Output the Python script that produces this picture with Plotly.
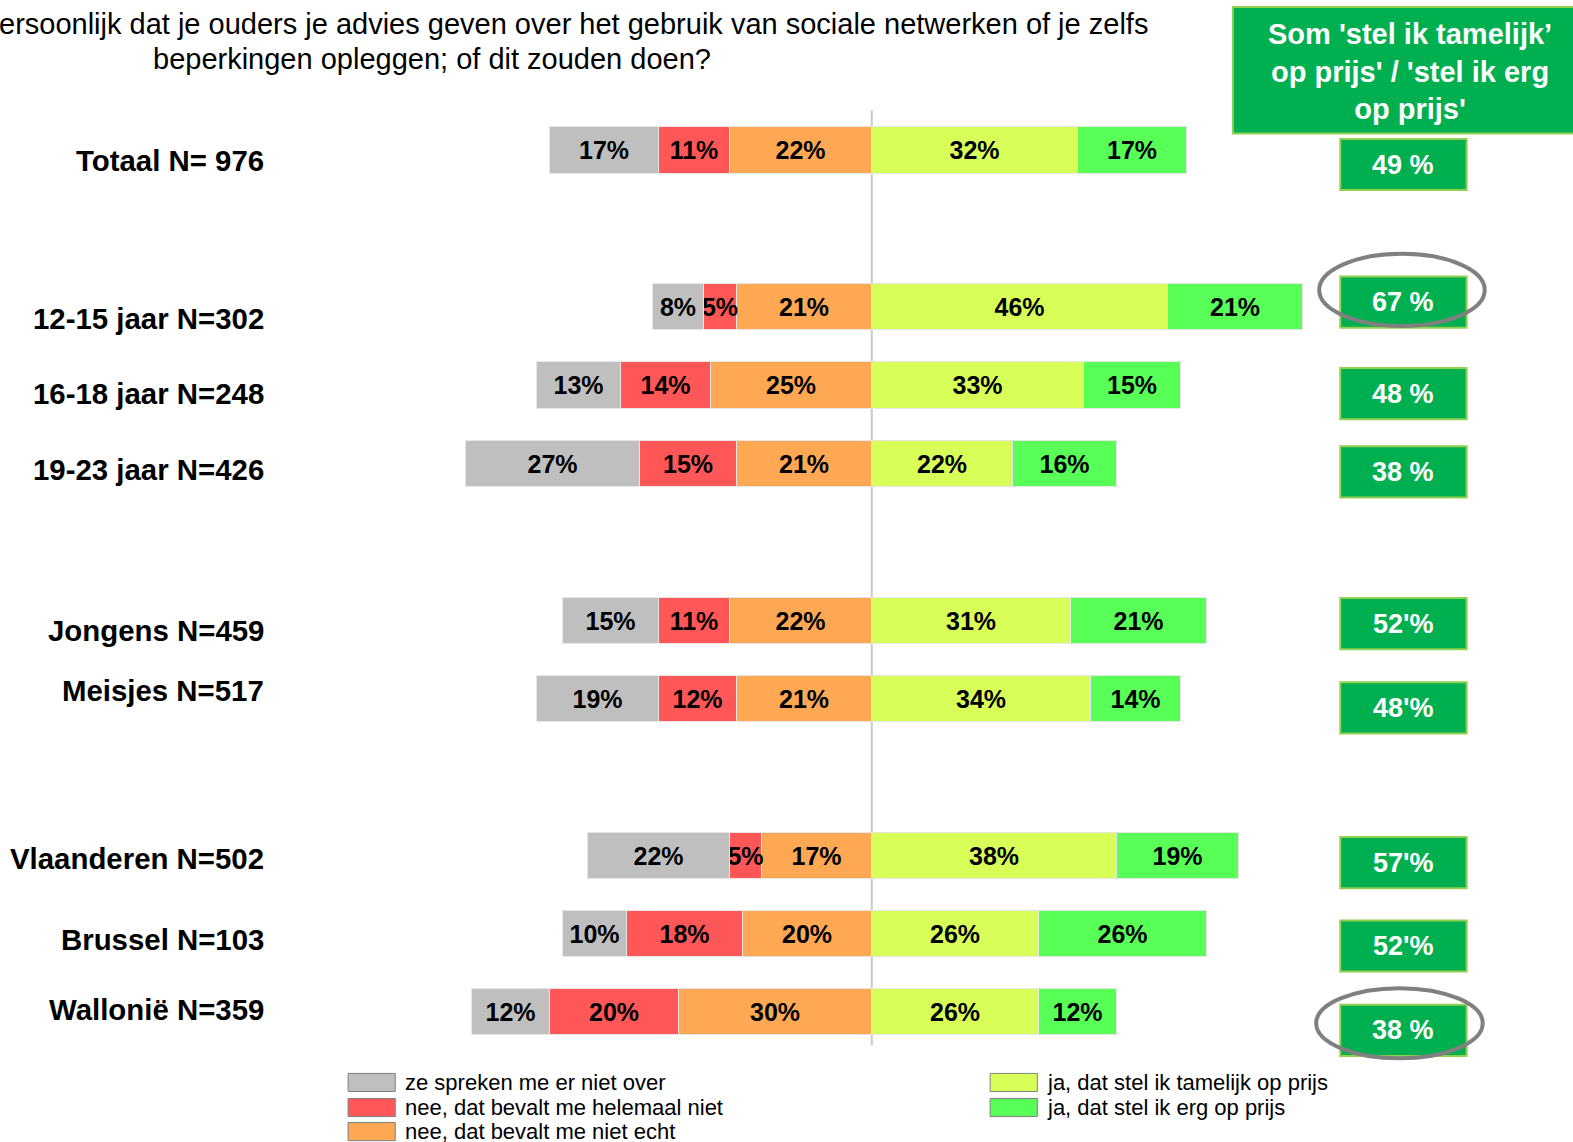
import plotly.graph_objects as go

# ---------------- data ----------------
groups = [
    ["Totaal N= 976"],
    ["12-15 jaar N=302", "16-18 jaar N=248", "19-23 jaar N=426"],
    ["Jongens N=459", "Meisjes N=517"],
    ["Vlaanderen N=502", "Brussel N=103", "Wallonië N=359"],
]
niet_over = [17, 8, 13, 27, 15, 19, 22, 10, 12]
helemaal_niet = [11, 5, 14, 15, 11, 12, 5, 18, 20]
niet_echt = [22, 21, 25, 21, 22, 21, 17, 20, 30]
tamelijk = [32, 46, 33, 22, 31, 34, 38, 26, 26]
erg = [17, 21, 15, 16, 21, 14, 19, 26, 12]
som_labels = ["49 %", "67 %", "48 %", "38 %", "52'%", "48'%", "57'%", "52'%", "38 %"]

series_names = [
    "ze spreken me er niet over",
    "nee, dat bevalt me helemaal niet",
    "nee, dat bevalt me niet echt",
    "ja, dat stel ik tamelijk op prijs",
    "ja, dat stel ik erg op prijs",
]
header_text = "Som 'stel ik tamelijk’<br>op prijs' / 'stel ik erg<br>op prijs'"
title_line1 = "ersoonlijk dat je ouders je advies geven over het gebruik van sociale netwerken of je zelfs"
title_line2 = "beperkingen opleggen; of dit zouden doen?"

# ---------------- layout helpers ----------------
W, H = 1573, 1142
S = 1573 / 1568          # measured coordinates were taken on a 1568-wide view
X0, XS = 869.0 * S, 6.42 * S   # pixel of 0 %, pixels per %
Y0, YS = 150.0 * S, 78.1 * S   # pixel of row 0, pixels per row

categories, rows = [], []
r = 0
for g in groups:
    for c in g:
        categories.append(c)
        rows.append(r)
        r += 1
    r += 1

def px(x):
    return x * S / W

def py(y):
    return 1 - y * S / H

def ry(r):
    return 150.0 + 78.1 * r

colors = ["#BFBFBF", "#FF5757", "#FFA853", "#D7FF57", "#57FF57"]
FONT = "Liberation Sans, Arial, sans-serif"

fig = go.Figure()
neg = [(niet_echt, 2), (helemaal_niet, 1), (niet_over, 0)]
pos = [(tamelijk, 3), (erg, 4)]
bw = 46 / 78.1
for sign, lst in [(-1, neg), (1, pos)]:
    for vals, i in lst:
        fig.add_trace(go.Bar(
            y=rows, x=[sign * v for v in vals], orientation="h", width=bw,
            name=series_names[i], marker=dict(color=colors[i], line=dict(color="#E6E6E6", width=1)),
            customdata=vals, texttemplate="<b>%{customdata}%</b>", textposition="inside",
            insidetextanchor="middle", textangle=0, constraintext="none",
            textfont=dict(family=FONT, size=25, color="black"), hoverinfo="skip"))

ann = []
shapes = []

# center line
shapes.append(dict(type="line", xref="x", yref="paper", x0=0, x1=0, y0=py(110), y1=py(1042),
                   line=dict(color="#C8C8C8", width=2), layer="below"))

# row labels
label_dy = [10, 11, 8, 6, 10, -8, 3, 6, -3]
for c, rr, dy in zip(categories, rows, label_dy):
    ann.append(dict(xref="paper", yref="paper", x=px(265), y=py(ry(rr) + dy), xanchor="right",
                    yanchor="middle", text="<b>%s</b>" % c, showarrow=False,
                    font=dict(family=FONT, size=29.4, color="black")))

# sum boxes
box_dy = [14, -5, 8, 8, 3, 9, 7, 12, 18]
for t, rr, dy in zip(som_labels, rows, box_dy):
    cy = ry(rr) + dy
    shapes.append(dict(type="rect", xref="paper", yref="paper", x0=px(1336), x1=px(1462),
                       y0=py(cy + 25.5), y1=py(cy - 25.5), fillcolor="#00B050",
                       line=dict(color="#92D050", width=2)))
    ann.append(dict(xref="paper", yref="paper", x=px(1399), y=py(cy), xanchor="center",
                    yanchor="middle", text="<b>%s</b>" % t, showarrow=False,
                    font=dict(family=FONT, size=27, color="white")))

# header box
shapes.append(dict(type="rect", xref="paper", yref="paper", x0=px(1229), x1=px(1585),
                   y0=py(133), y1=py(7), fillcolor="#00B050", line=dict(color="#92D050", width=2)))
ann.append(dict(xref="paper", yref="paper", x=px(1406), y=py(71), xanchor="center", yanchor="middle",
                text="<b>%s</b>" % header_text, showarrow=False,
                font=dict(family=FONT, size=29, color="white")))

# ellipses
for (x0, x1, y0, y1) in [(1315, 1480, 253, 325), (1312, 1478, 985, 1055)]:
    shapes.append(dict(type="circle", xref="paper", yref="paper", x0=px(x0), x1=px(x1),
                       y0=py(y1), y1=py(y0), line=dict(color="#808080", width=4)))

# title
ann.append(dict(xref="paper", yref="paper", x=px(-3), y=py(24), xanchor="left", yanchor="middle",
                text=title_line1, showarrow=False, font=dict(family=FONT, size=29, color="black")))
ann.append(dict(xref="paper", yref="paper", x=px(431), y=py(59), xanchor="center", yanchor="middle",
                text=title_line2, showarrow=False, font=dict(family=FONT, size=29, color="black")))

# legend
leg_pos = [(347, 1079), (347, 1104), (347, 1128), (987, 1079), (987, 1104)]
for i, (lx, ly) in enumerate(leg_pos):
    shapes.append(dict(type="rect", xref="paper", yref="paper", x0=px(lx), x1=px(lx + 47),
                       y0=py(ly + 9), y1=py(ly - 9), fillcolor=colors[i],
                       line=dict(color="#7F7F7F", width=1)))
    ann.append(dict(xref="paper", yref="paper", x=px(lx + 55), y=py(ly), xanchor="left",
                    yanchor="middle", text=series_names[i], showarrow=False,
                    font=dict(family=FONT, size=22, color="black")))

fig.update_layout(
    width=W, height=H, autosize=False,
    margin=dict(l=0, r=0, t=0, b=0, pad=0),
    barmode="relative", bargap=0, showlegend=False,
    plot_bgcolor="white", paper_bgcolor="white",
    xaxis=dict(range=[(0 - X0) / XS, (W - X0) / XS], visible=False, fixedrange=True),
    yaxis=dict(range=[(H - Y0) / YS, (0 - Y0) / YS], visible=False, fixedrange=True),
    annotations=ann, shapes=shapes,
)
fig.write_html("out.html", config={"displayModeBar": False},
               post_script="document.body.style.margin='0px';document.body.style.overflow='hidden';")
